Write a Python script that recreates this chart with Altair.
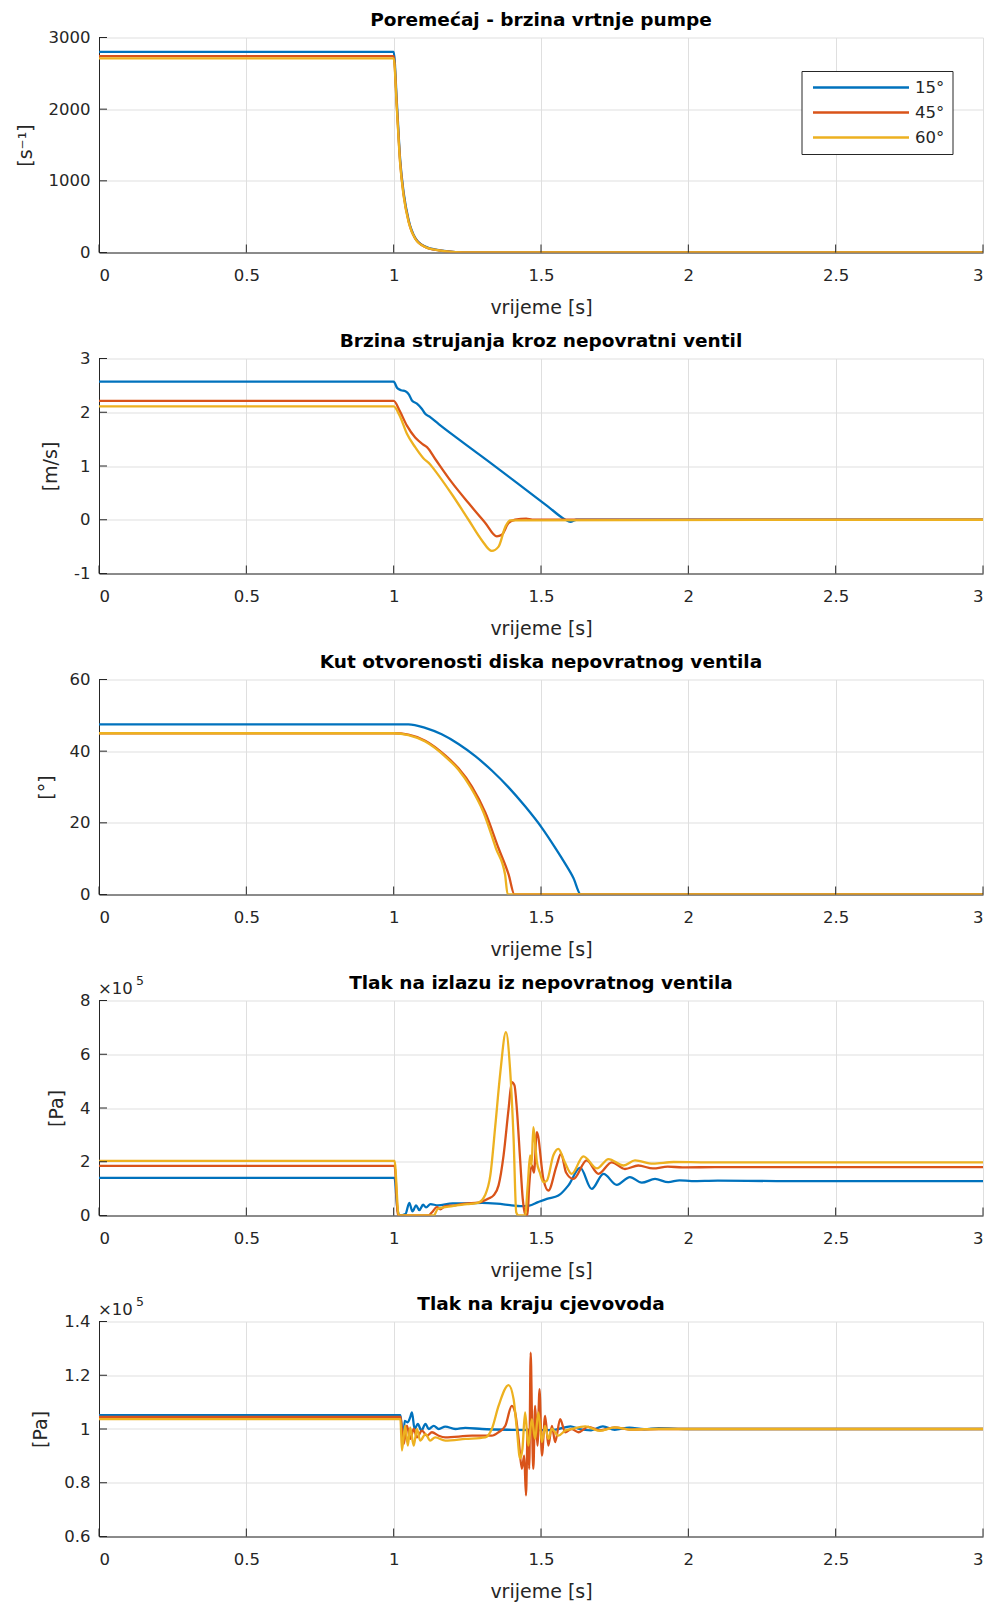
import altair as alt
import pandas as pd

FONT = "DejaVu Sans"
TXT = "#262626"
SERIES = ["15°", "45°", "60°"]
COLORS = ["#0072BD", "#D95319", "#EDB120"]
XTICKS = [0, 0.5, 1, 1.5, 2, 2.5, 3]
W, H = 884, 215

# ---------- Panel 1: pump speed [1/s]
SPEED_T = [0, 1.0, 1.011, 1.022, 1.034, 1.051, 1.073, 1.107, 1.153, 1.21, 1.26, 3.0]
SPEED_15 = [2800, 2800, 2080, 1300, 830, 450, 205, 82, 32, 6, 0, 0]
SPEED_45 = [2740, 2740, 2020, 1260, 800, 430, 196, 78, 30, 5, 0, 0]
SPEED_60 = [2710, 2710, 1990, 1240, 785, 420, 192, 76, 29, 5, 0, 0]

# ---------- Panel 2: flow velocity [m/s]
VEL_T_15 = [0, 1.0, 1.012, 1.025, 1.04, 1.052, 1.062, 1.079, 1.096, 1.107, 1.124, 1.153, 1.22,
            1.333, 1.446, 1.525, 1.58, 1.60, 1.62, 3.0]
VEL_15 = [2.57, 2.57, 2.45, 2.41, 2.39, 2.33, 2.22, 2.16, 2.06, 1.97, 1.91, 1.78, 1.50,
          1.04, 0.57, 0.24, 0.01, -0.04, 0.0, 0.0]
VEL_T_45 = [0, 1.0, 1.02, 1.045, 1.073, 1.1, 1.113, 1.141, 1.198, 1.254, 1.311, 1.35, 1.367,
            1.39, 1.412, 1.45, 1.47, 3.0]
VEL_45 = [2.21, 2.21, 2.03, 1.75, 1.53, 1.40, 1.35, 1.13, 0.69, 0.31, -0.06, -0.31, -0.28,
          -0.06, 0.0, 0.02, 0.0, 0.0]
VEL_T_60 = [0, 1.0, 1.02, 1.045, 1.073, 1.1, 1.124, 1.141, 1.198, 1.254, 1.299, 1.333, 1.356,
            1.379, 1.395, 3.0]
VEL_60 = [2.11, 2.11, 1.94, 1.60, 1.35, 1.15, 1.03, 0.91, 0.47, 0.0, -0.38, -0.58, -0.50,
          -0.13, -0.01, 0.0]

# ---------- Panel 3: disc opening angle [deg]
ANG_T_15 = [0, 1.05, 1.107, 1.163, 1.22, 1.277, 1.333, 1.39, 1.446, 1.503, 1.55, 1.582, 1.61, 1.635, 3.0]
ANG_15 = [47.5, 47.5, 46.5, 44.7, 42.0, 38.6, 34.6, 29.9, 24.6, 18.6, 12.8, 8.6, 4.6, 0, 0]
ANG_T_45 = [0, 1.0, 1.05, 1.107, 1.175, 1.22, 1.265, 1.311, 1.356, 1.39, 1.41, 3.0]
ANG_45 = [45, 45, 44.6, 42.9, 38.8, 35.2, 30.2, 22.9, 12.9, 5.6, 0, 0]
ANG_T_60 = [0, 1.0, 1.05, 1.107, 1.175, 1.22, 1.262, 1.305, 1.347, 1.378, 1.387, 3.0]
ANG_60 = [45, 45, 44.5, 42.7, 38.5, 34.8, 29.8, 22.9, 12.9, 5.6, 0, 0]

# ---------- Panel 4: pressure at valve outlet [x1e5 Pa]
P4_T_15 = [0, 1.003, 1.012, 1.02, 1.04, 1.053, 1.064, 1.076, 1.087, 1.10, 1.11, 1.125, 1.15, 1.2,
           1.25, 1.3, 1.35, 1.4, 1.43, 1.46, 1.49, 1.52, 1.559, 1.593, 1.633, 1.672, 1.712, 1.757,
           1.802, 1.842, 1.887, 1.932, 1.97, 2.011, 2.1, 2.3, 2.6, 3.0]
P4_15 = [1.40, 1.40, 0.3, 0.0, 0.05, 0.47, 0.15, 0.38, 0.2, 0.40, 0.3, 0.42, 0.38, 0.45,
         0.45, 0.47, 0.44, 0.38, 0.35, 0.37, 0.5, 0.62, 0.74, 1.12, 1.78, 0.99, 1.55, 1.14,
         1.43, 1.22, 1.36, 1.24, 1.31, 1.28, 1.30, 1.28, 1.28, 1.28]
P4_T_45 = [0, 1.003, 1.015, 1.118, 1.13, 1.147, 1.158, 1.175, 1.209, 1.243, 1.288, 1.322, 1.339,
           1.356, 1.373, 1.39, 1.401, 1.41, 1.418, 1.429, 1.438, 1.446, 1.454, 1.46, 1.469, 1.476,
           1.486, 1.508, 1.525, 1.553, 1.568, 1.585, 1.61, 1.655, 1.695, 1.74, 1.785, 1.83, 1.88,
           1.93, 1.98, 2.1, 3.0]
P4_45 = [1.85, 1.85, 0.0, 0.0, 0.12, 0.31, 0.23, 0.35, 0.38, 0.44, 0.48, 0.63, 0.75,
         1.12, 2.24, 3.97, 4.96, 4.84, 3.97, 2.11, 0.63, 0.07, 0.0, 1.12, 1.86, 1.6,
         3.1, 1.36, 0.93, 1.86, 2.3, 1.6, 1.36, 2.05, 1.55, 1.98, 1.73, 1.86, 1.75,
         1.82, 1.79, 1.80, 1.80]
P4_T_60 = [0, 1.003, 1.017, 1.136, 1.15, 1.2, 1.25, 1.288, 1.31, 1.328, 1.345, 1.362, 1.381,
           1.395, 1.407, 1.416, 1.424, 1.446, 1.455, 1.463, 1.468, 1.474, 1.48, 1.486, 1.496,
           1.508, 1.52, 1.542, 1.559, 1.58, 1.604, 1.644, 1.69, 1.729, 1.78, 1.819, 1.88, 1.95,
           2.05, 3.0]
P4_60 = [2.03, 2.03, 0.0, 0.0, 0.25, 0.35, 0.42, 0.48, 0.75, 1.49, 3.35, 5.33, 6.82,
         5.45, 2.85, 0.12, 0.0, 0.0, 1.12, 2.24, 1.86, 3.29, 2.7, 2.0, 1.6,
         1.24, 1.3, 2.24, 2.48, 2.0, 1.55, 2.2, 1.75, 2.1, 1.86, 2.05, 1.93, 1.99,
         1.98, 1.98]

# ---------- Panel 5: pressure at pipeline end [x1e5 Pa]
P5_T_15 = [0, 1.023, 1.028, 1.033, 1.037, 1.048, 1.056, 1.062, 1.071, 1.082, 1.094, 1.108, 1.119,
           1.136, 1.153, 1.175, 1.209, 1.243, 1.3, 1.4, 1.5, 1.55, 1.6, 1.63, 1.67, 1.71, 1.75,
           1.8, 1.85, 1.9, 2.0, 3.0]
P5_15 = [1.052, 1.052, 1.0, 0.95, 1.03, 1.025, 1.043, 1.062, 1.0, 1.019, 0.994, 1.019, 1.0,
         1.012, 1.0, 1.009, 1.0, 1.004, 1.0, 0.997, 0.996, 0.998, 1.01, 1.0, 0.995, 1.01, 0.997,
         1.005, 0.999, 1.003, 1.0, 1.0]
P5_T_45 = [0, 1.023, 1.028, 1.034, 1.045, 1.056, 1.068, 1.079, 1.096, 1.113, 1.13, 1.153, 1.175,
           1.266, 1.333, 1.356, 1.379, 1.401, 1.412, 1.424, 1.435, 1.443, 1.449, 1.455, 1.46,
           1.465, 1.47, 1.474, 1.48, 1.488, 1.495, 1.503, 1.514, 1.525, 1.537, 1.548, 1.565,
           1.582, 1.604, 1.627, 1.66, 1.7, 1.75, 1.8, 1.9, 3.0]
P5_45 = [1.045, 1.045, 1.0, 0.944, 1.012, 0.963, 1.0, 0.969, 0.994, 0.975, 0.988, 0.975, 0.969,
         0.975, 0.975, 0.988, 1.012, 1.086, 1.062, 0.963, 0.852, 0.901, 0.753, 1.0, 0.852,
         1.284, 1.0, 0.852, 1.086, 0.938, 1.148, 0.901, 1.049, 0.938, 1.012, 0.951, 1.037,
         0.988, 1.0, 0.988, 1.008, 0.995, 1.006, 0.998, 1.0, 1.0]
P5_T_60 = [0, 1.023, 1.028, 1.039, 1.048, 1.056, 1.068, 1.079, 1.09, 1.108, 1.124, 1.141, 1.175,
           1.243, 1.311, 1.333, 1.356, 1.39, 1.407, 1.418, 1.429, 1.437, 1.446, 1.457, 1.469,
           1.48, 1.491, 1.503, 1.514, 1.525, 1.537, 1.559, 1.582, 1.604, 1.65, 1.7, 1.75, 1.8,
           1.9, 3.0]
P5_60 = [1.037, 1.037, 0.92, 1.012, 0.938, 1.006, 0.938, 1.0, 0.957, 0.981, 0.957, 0.969, 0.957,
         0.963, 0.969, 1.0, 1.086, 1.163, 1.111, 1.0, 0.89, 0.926, 1.062, 0.938, 1.037,
         0.963, 1.062, 0.951, 1.012, 0.963, 1.0, 0.975, 0.994, 1.0, 1.01, 0.993, 1.006, 0.998,
         1.0, 1.0]

TITLES = ["Poremećaj - brzina vrtnje pumpe",
          "Brzina strujanja kroz nepovratni ventil",
          "Kut otvorenosti diska nepovratnog ventila",
          "Tlak na izlazu iz nepovratnog ventila",
          "Tlak na kraju cjevovoda"]
YTITLES = ["[s⁻¹]", "[m/s]", "[°]", "[Pa]", "[Pa]"]
YDOMS = [[0, 3000], [-1, 3], [0, 60], [0, 8], [0.6, 1.4]]
YTICKS = [[0, 1000, 2000, 3000], [-1, 0, 1, 2, 3], [0, 20, 40, 60], [0, 2, 4, 6, 8],
          [0.6, 0.8, 1.0, 1.2, 1.4]]
XTITLE = "vrijeme [s]"
EXP_BASE = "×10"
EXP_POW = "5"

PANELS = [
    [(SPEED_T, SPEED_15), (SPEED_T, SPEED_45), (SPEED_T, SPEED_60)],
    [(VEL_T_15, VEL_15), (VEL_T_45, VEL_45), (VEL_T_60, VEL_60)],
    [(ANG_T_15, ANG_15), (ANG_T_45, ANG_45), (ANG_T_60, ANG_60)],
    [(P4_T_15, P4_15), (P4_T_45, P4_45), (P4_T_60, P4_60)],
    [(P5_T_15, P5_15), (P5_T_45, P5_45), (P5_T_60, P5_60)],
]

color_scale = alt.Scale(domain=SERIES, range=COLORS)


def txt_layer(text, size, x, y, weight="normal", color=TXT, align="left"):
    return alt.Chart(pd.DataFrame({"txt": [text]})).mark_text(
        font=FONT, fontSize=size, fontWeight=weight, color=color,
        align=align, baseline="middle").encode(
        text="txt:N", x=alt.value(x), y=alt.value(y))


def make_panel(i):
    rows = []
    for k, (ts, vs) in enumerate(PANELS[i]):
        for j, (t, v) in enumerate(zip(ts, vs)):
            rows.append({"t": t, "v": v, "s": SERIES[k], "k": k, "j": j})
    df = pd.DataFrame(rows)
    xs = alt.Scale(domain=[0, 3], nice=False, zero=False)
    ys = alt.Scale(domain=YDOMS[i], nice=False, zero=False)
    x = alt.X("t:Q", scale=xs, axis=alt.Axis(values=XTICKS, title=XTITLE,
                                             labelExpr="toString(datum.value)"))
    y = alt.Y("v:Q", scale=ys, axis=alt.Axis(values=YTICKS[i], title=YTITLES[i],
                                             labelExpr="toString(datum.value)"))
    lines = alt.Chart(df).mark_line(strokeWidth=2.3, clip=True, interpolate="monotone").encode(
        x=x, y=y,
        color=alt.Color("s:N", scale=color_scale, legend=None),
        detail="k:N", order="j:Q")

    xt = alt.Chart(pd.DataFrame({"t": XTICKS})).mark_rule(color=TXT, strokeWidth=1).encode(
        x=alt.X("t:Q"), y=alt.value(H), y2=alt.value(H - 8))
    yt = alt.Chart(pd.DataFrame({"v": YTICKS[i]})).mark_rule(color=TXT, strokeWidth=1).encode(
        y=alt.Y("v:Q"), x=alt.value(0), x2=alt.value(8))
    ttl = txt_layer(TITLES[i], 18.5, W / 2, -18, weight="bold", color="#000000", align="center")
    layers = [lines, xt, yt, ttl]
    if i >= 3:
        layers.append(txt_layer(EXP_BASE, 16.5, -1, -12))
        layers.append(txt_layer(EXP_POW, 12.5, 37, -20))
    if i == 0:
        box = alt.Chart(pd.DataFrame({"a": [0]})).mark_rect(
            fill="white", stroke=TXT, strokeWidth=1).encode(
            x=alt.value(703), x2=alt.value(854), y=alt.value(34), y2=alt.value(117))
        layers.append(box)
        for k in range(3):
            ry = 50 + 25 * k
            lr = alt.Chart(pd.DataFrame({"s": [SERIES[k]]})).mark_rule(strokeWidth=2.3).encode(
                x=alt.value(714), x2=alt.value(810), y=alt.value(ry),
                color=alt.Color("s:N", scale=color_scale, legend=None))
            layers += [lr, txt_layer(SERIES[k], 16.5, 816, ry)]
    return alt.layer(*layers).properties(width=W, height=H)


chart = alt.vconcat(*[make_panel(i) for i in range(5)], spacing=106, bounds="flush").properties(
    padding={"left": 8, "top": 2.5, "right": 0, "bottom": 0}
).configure_view(stroke=None).configure_axis(
    labelFont=FONT, labelFontSize=16.5, labelColor=TXT,
    titleFont=FONT, titleFontSize=19, titleFontWeight="normal", titleColor=TXT,
    domainColor=TXT, domainWidth=1, tickSize=0, ticks=False,
    gridColor="#dfdfdf", gridWidth=1,
).configure_axisX(labelPadding=15, titlePadding=14, labelFlush=True).configure_axisY(
    labelPadding=9, titlePadding=13)

chart.save("out.html", embed_options={"renderer": "svg", "actions": False})
